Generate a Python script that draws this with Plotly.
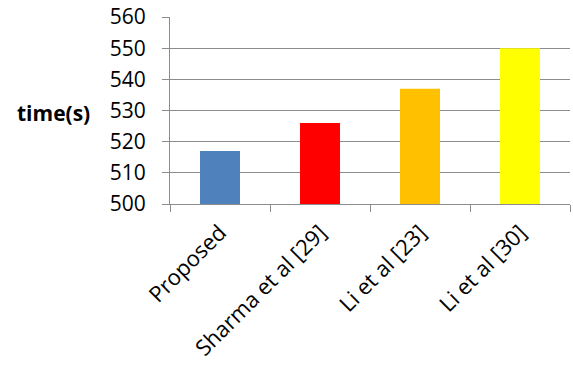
import plotly.graph_objects as go

categories = ["Proposed", "Sharma et al [29]", "Li et al [23]", "Li et al [30]"]
values = [517, 526, 537, 550]
colors = ["#4F81BD", "#FF0000", "#FFC000", "#FFFF00"]
y_ticks = [500, 510, 520, 530, 540, 550, 560]

font_family = "Open Sans, Liberation Sans, sans-serif"

fig = go.Figure(go.Bar(x=categories, y=values, marker=dict(color=colors, line=dict(width=0)), width=0.4))

fig.update_layout(
    width=573, height=372,
    margin=dict(l=170, r=3, t=17, b=168),
    plot_bgcolor="white", paper_bgcolor="white",
    showlegend=False,
    font=dict(family=font_family, size=22, color="black"),
)
fig.update_yaxes(
    range=[500, 560], tickvals=y_ticks,
    showgrid=True, gridcolor="#8C8C8C", gridwidth=1,
    showline=True, linecolor="#8C8C8C", linewidth=1,
    ticks="outside", ticklen=7, tickcolor="#8C8C8C",
    tickfont=dict(size=21), zeroline=False, ticklabelstandoff=12,
)
fig.update_xaxes(
    showgrid=False, showline=True, linecolor="#8C8C8C", linewidth=1,
    ticks="outside", ticklen=7, tickcolor="#8C8C8C", tickson="boundaries",
    tickangle=-45, tickfont=dict(size=22), ticklabelstandoff=6,
)
fig.add_annotation(
    text="<b>time(s)</b>", xref="paper", yref="paper", x=-(170 - 92) / 400, y=(204 - 113) / 187,
    xanchor="right", yanchor="middle", showarrow=False,
    font=dict(size=21, family=font_family),
)
fig.write_html("out.html")
